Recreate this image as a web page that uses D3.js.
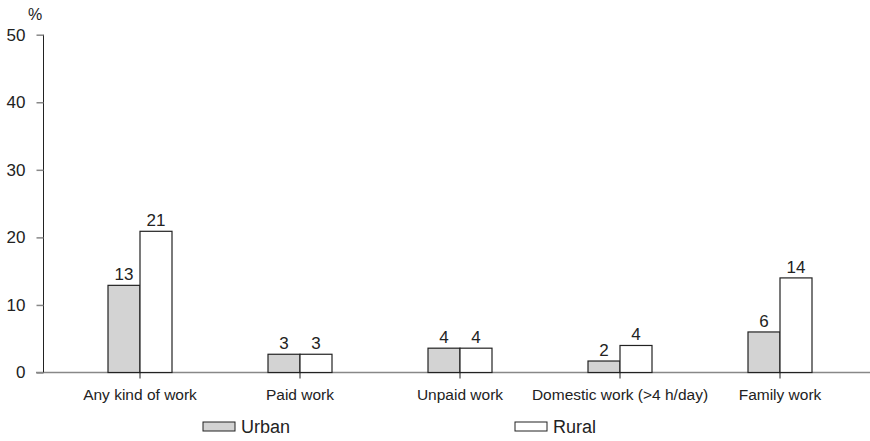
<!DOCTYPE html>
<html lang="en">
<head>
    <meta charset="UTF-8">
    <title>Work by area</title>
    <script src="https://d3js.org/d3.v7.min.js"></script>
    <style>
        body { margin: 0; background: #fff; }
        text { font-family: "Liberation Sans", Arial, sans-serif; fill: #222; }
    </style>
</head>
<body>
    <script>
        const categories = ["Any kind of work", "Paid work", "Unpaid work", "Domestic work (>4 h/day)", "Family work"];
        const urban = [12.9, 2.7, 3.6, 1.7, 6.0];
        const rural = [20.9, 2.7, 3.6, 4.0, 14.0];
        const yTicks = [0, 10, 20, 30, 40, 50];

        const width = 870;
        const height = 441;

        const svg = d3.select("body").append("svg")
            .attr("width", width)
            .attr("height", height);

        const x = d3.scaleBand().domain(categories).range([60, 860]);
        const y = d3.scaleLinear().domain([0, 50]).range([372.5, 34.7]);
        const barW = 32;

        // baseline (grey, runs to the right edge)
        svg.append("line")
            .attr("x1", 36).attr("x2", width)
            .attr("y1", y(0)).attr("y2", y(0))
            .attr("stroke", "#888").attr("stroke-width", 1.5);

        // y axis
        const yAxis = svg.append("g")
            .attr("transform", "translate(43.5,0)")
            .call(d3.axisLeft(y).tickValues(yTicks).tickSize(7).tickPadding(11));
        yAxis.select(".domain").attr("stroke", "#222").attr("d", `M0,${y(50)}V${y(0)}`);
        yAxis.selectAll(".tick line").attr("stroke", "#888").attr("stroke-width", 1.5);
        yAxis.selectAll("text").style("font-size", "17px").attr("fill", "#222");

        svg.append("text")
            .attr("x", 35).attr("y", 20)
            .attr("text-anchor", "middle")
            .style("font-size", "16px")
            .text("%");

        // category ticks + labels
        const cats = svg.append("g")
            .attr("transform", `translate(0,${y(0)})`)
            .call(d3.axisBottom(x).tickSize(6).tickPadding(10));
        cats.select(".domain").remove();
        cats.selectAll(".tick line").attr("stroke", "#222");
        cats.selectAll("text").style("font-size", "15.5px").attr("fill", "#222");

        const series = [
            { name: "Urban", values: urban, fill: "#d3d3d3", dx: -barW },
            { name: "Rural", values: rural, fill: "#fff", dx: 0 }
        ];

        const fmt = d3.format(".0f");

        series.forEach(s => {
            const g = svg.append("g");
            g.selectAll("rect")
                .data(s.values)
                .join("rect")
                .attr("x", (d, i) => x(categories[i]) + x.bandwidth() / 2 + s.dx)
                .attr("y", d => y(d))
                .attr("width", barW)
                .attr("height", d => y(0) - y(d))
                .attr("fill", s.fill)
                .attr("stroke", "#222")
                .attr("stroke-width", 1.2);
            g.selectAll("text")
                .data(s.values)
                .join("text")
                .attr("x", (d, i) => x(categories[i]) + x.bandwidth() / 2 + s.dx + barW / 2)
                .attr("y", d => y(d) - 5)
                .attr("text-anchor", "middle")
                .style("font-size", "17px")
                .text(d => fmt(d));
        });

        // legend
        const legendX = [203, 515];
        series.forEach((s, i) => {
            svg.append("rect")
                .attr("x", legendX[i]).attr("y", 422)
                .attr("width", 32).attr("height", 9)
                .attr("fill", s.fill)
                .attr("stroke", "#222").attr("stroke-width", 1);
            svg.append("text")
                .attr("x", legendX[i] + 38).attr("y", 433)
                .style("font-size", "18px")
                .text(s.name);
        });
    </script>
</body>
</html>
